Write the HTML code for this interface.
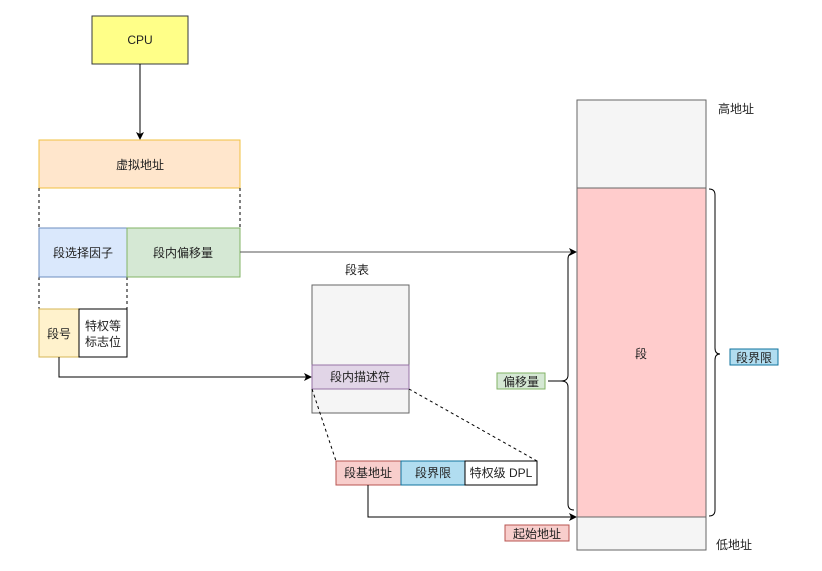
<!DOCTYPE html>
<html><head><meta charset="utf-8"><style>
body{margin:0;background:#fff}
svg text{font-family:"Liberation Sans","Noto Sans CJK SC",sans-serif;font-size:12px;fill:#222}
</style></head><body>
<svg width="822" height="566" viewBox="0 0 822 566" xmlns="http://www.w3.org/2000/svg">
<defs><marker id="a" markerWidth="8" markerHeight="8" refX="7" refY="4" orient="auto" markerUnits="userSpaceOnUse"><path d="M0,0 L8,4 L0,8 L2,4 z" fill="#000"/></marker></defs>
<rect x="92" y="16" width="96" height="48" fill="#ffff88" stroke="#36393d"/>
<text x="140" y="44" text-anchor="middle">CPU</text>
<line x1="140" y1="64" x2="140" y2="139" stroke="#000" marker-end="url(#a)"/>
<rect x="39" y="140" width="201" height="48" fill="#ffe6cc" stroke="#f0c040"/>
<text x="140" y="169" text-anchor="middle">虚拟地址</text>
<g stroke="#000" stroke-dasharray="3,3"><line x1="39" y1="188" x2="39" y2="228"/><line x1="240" y1="188" x2="240" y2="228"/><line x1="39" y1="277" x2="39" y2="309"/><line x1="127" y1="277" x2="127" y2="309"/></g>
<rect x="39" y="228" width="88" height="49" fill="#dae8fc" stroke="#6c8ebf"/>
<text x="83" y="257" text-anchor="middle">段选择因子</text>
<rect x="127" y="228" width="113" height="49" fill="#d5e8d4" stroke="#82b366"/>
<text x="183" y="257" text-anchor="middle">段内偏移量</text>
<rect x="39" y="309" width="40" height="48" fill="#fff2cc" stroke="#d6b656"/>
<text x="59" y="338" text-anchor="middle">段号</text>
<rect x="79" y="309" width="48" height="48" fill="#fff" stroke="#000"/>
<text x="103" y="330" text-anchor="middle">特权等</text><text x="103" y="346" text-anchor="middle">标志位</text>
<polyline points="59,357 59,377 311,377" fill="none" stroke="#000" marker-end="url(#a)"/>
<line x1="240" y1="252" x2="576" y2="252" stroke="#555" marker-end="url(#a)"/>
<text x="357" y="274" text-anchor="middle">段表</text>
<rect x="312" y="285" width="97" height="128" fill="#f5f5f5" stroke="#666"/>
<rect x="312" y="365" width="97" height="24" fill="#e1d5e7" stroke="#9673a6"/>
<text x="360" y="381" text-anchor="middle">段内描述符</text>
<g stroke="#000" stroke-dasharray="3,3"><line x1="312" y1="389" x2="336" y2="461"/><line x1="409" y1="389" x2="537" y2="461"/></g>
<rect x="336" y="461" width="65" height="24" fill="#f8cecc" stroke="#b85450"/>
<text x="368" y="477" text-anchor="middle">段基地址</text>
<rect x="401" y="461" width="64" height="24" fill="#b1ddf0" stroke="#10739e"/>
<text x="433" y="477" text-anchor="middle">段界限</text>
<rect x="465" y="461" width="72" height="24" fill="#fff" stroke="#000"/>
<text x="501" y="477" text-anchor="middle">特权级 DPL</text>
<polyline points="368,485 368,517 576,517" fill="none" stroke="#000" marker-end="url(#a)"/>
<rect x="577" y="100" width="129" height="450" fill="#f5f5f5" stroke="#666"/>
<rect x="577" y="188" width="129" height="329" fill="#ffcccc" stroke="#666"/>
<text x="641" y="358" text-anchor="middle">段</text>
<text x="718" y="113">高地址</text>
<text x="716" y="549">低地址</text>
<path d="M709,189 Q715,189 715,195 L715,348 Q715,354 720,354 Q715,354 715,360 L715,510 Q715,516 709,516" fill="none" stroke="#000"/>
<rect x="730" y="349" width="48" height="16" fill="#b1ddf0" stroke="#10739e"/>
<text x="754" y="362" text-anchor="middle">段界限</text>
<path d="M574,253 Q568,253 568,259 L568,375 Q568,381 561,381 L548,381 M561,381 Q568,381 568,387 L568,504 Q568,510 574,510" fill="none" stroke="#000"/>
<rect x="497" y="373" width="48" height="16" fill="#d5e8d4" stroke="#82b366"/>
<text x="521" y="386" text-anchor="middle">偏移量</text>
<rect x="505" y="525" width="64" height="16" fill="#f8cecc" stroke="#b85450"/>
<text x="537" y="538" text-anchor="middle">起始地址</text>
</svg>
</body></html>
